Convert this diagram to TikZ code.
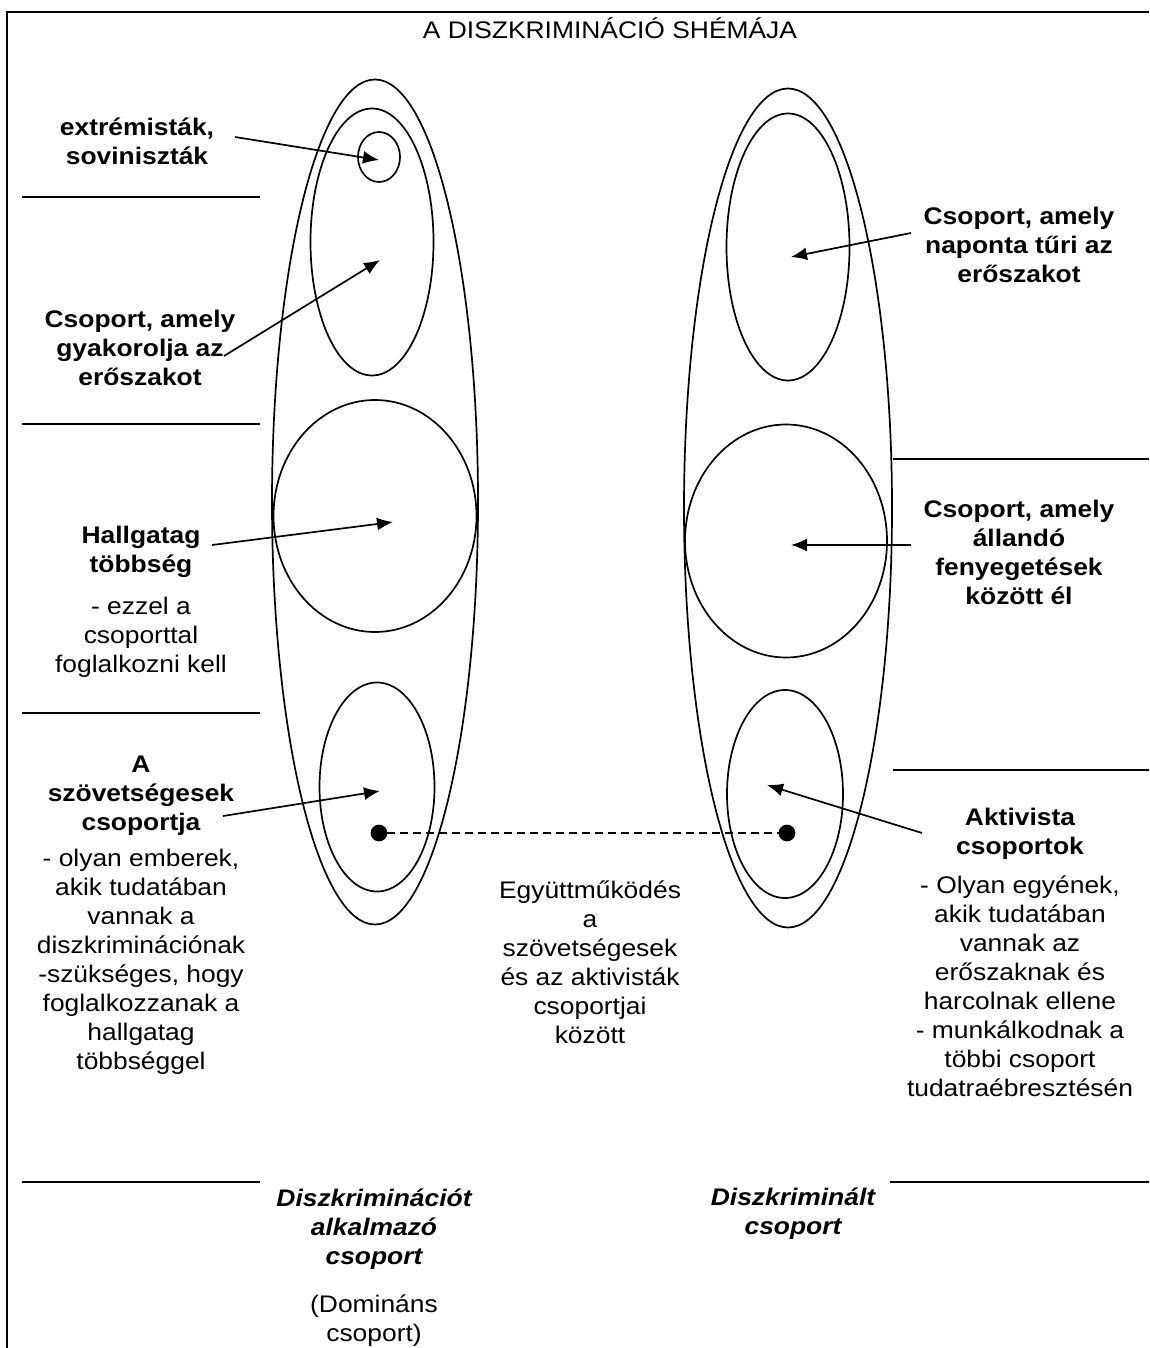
\documentclass[tikz,border=0pt]{standalone}
\usepackage{fontspec}
\setmainfont{Liberation Sans}[FakeStretch=1.1]
\usetikzlibrary{arrows.meta, shapes, positioning}
\tikzset{> = { Latex[length = 16pt, width = 13pt] }}

\begin{document}
\begin{tikzpicture}[x = 1pt, y = -1pt, line width = 1.7pt,
		ring/.style = {draw, ellipse, inner sep = 0pt},
		heading/.style = {align = center, inner sep = 0pt, font = \fontsize{24}{29}\selectfont\bfseries},
		label/.style = {align = center, inner sep = 0pt, font = \fontsize{24}{29}\selectfont\bfseries\itshape},
		note/.style = {align = center, inner sep = 0pt, font = \fontsize{24}{29}\selectfont},
		rule/.style = {line width = 2.6pt},
		spot/.style = {draw, circle, fill, inner sep = 0pt, minimum size = 15pt}]
		\useasboundingbox (0, 0) rectangle (1149, 1348);
		\draw [rule] (7, 1348) -- (7, 12) -- (1149, 12);
		\node [note] (title) at (610, 28) {A DISZKRIMINÁCIÓ SHÉMÁJA};

		\node [ring, minimum width = 206pt, minimum height = 845pt] (domOuter) at (375, 502) {};
		\node [ring, minimum width = 123pt, minimum height = 267pt] (domUpper) at (372, 242) {};
		\node [ring, minimum width = 42pt, minimum height = 50pt] (domTop) at (379, 157) {};
		\node [ring, minimum width = 203pt, minimum height = 232pt] (domMiddle) at (375, 516) {};
		\node [ring, minimum width = 115pt, minimum height = 209pt] (domLower) at (377, 787) {};
		\node [spot] (domSpot) at (379, 833) {};

		\node [ring, minimum width = 208pt, minimum height = 839pt] (subOuter) at (788, 508) {};
		\node [ring, minimum width = 123pt, minimum height = 267pt] (subUpper) at (788, 247) {};
		\node [ring, minimum width = 202pt, minimum height = 233pt] (subMiddle) at (786, 541) {};
		\node [ring, minimum width = 116pt, minimum height = 208pt] (subLower) at (785, 794) {};
		\node [spot] (subSpot) at (787, 833) {};

		\draw [dash pattern = on 8pt off 5pt] (domSpot) -- (subSpot);

		\draw [rule] (22, 197) -- (260, 197);
		\draw [rule] (22, 424) -- (260, 424);
		\draw [rule] (22, 713) -- (260, 713);
		\draw [rule] (22, 1182) -- (260, 1182);
		\draw [rule] (893, 459) -- (1149, 459);
		\draw [rule] (893, 770) -- (1149, 770);
		\draw [rule] (890, 1182) -- (1149, 1182);

		\node [heading] (extremists) at (137, 141) {extrémisták,\\soviniszták};
		\node [heading] (violent) at (140, 348) {Csoport, amely\\gyakorolja az\\erőszakot};
		\node [heading] (silent) at (141, 552) {Hallgatag\\többség};
		\node [note] (silentNote) at (141, 637) {- ezzel a\\csoporttal\\foglalkozni kell};
		\node [heading] (allies) at (141, 796) {A\\szövetségesek\\csoportja};
		\node [note] (alliesNote) at (141, 962) {- olyan emberek,\\akik tudatában\\vannak a\\diszkriminációnak\\-szükséges, hogy\\foglalkozzanak a\\hallgatag\\többséggel};

		\node [heading] (daily) at (1019, 245) {Csoport, amely\\naponta tűri az\\erőszakot};
		\node [heading] (threat) at (1019, 552) {Csoport, amely\\állandó\\fenyegetések\\között él};
		\node [heading] (activists) at (1020, 834) {Aktivista\\csoportok};
		\node [note] (activistsNote) at (1020, 986) {- Olyan egyének,\\akik tudatában\\vannak az\\erőszaknak és\\harcolnak ellene\\- munkálkodnak a\\többi csoport\\tudatraébresztésén};

		\node [note] (cooperation) at (590, 962) {Együttműködés\\a\\szövetségesek\\és az aktivisták\\csoportjai\\között};

		\node [label] (domLabel) at (374, 1229) {Diszkriminációt\\alkalmazó\\csoport};
		\node [note] (domNote) at (374, 1321) {(Domináns\\csoport)};
		\node [label] (subLabel) at (793, 1214) {Diszkriminált\\csoport};

		\coordinate (extremistsTail) at (235, 137);
		\coordinate (extremistsHead) at (379, 160);
		\coordinate (violentTail) at (224, 356);
		\coordinate (violentHead) at (380, 260);
		\coordinate (silentTail) at (212, 545);
		\coordinate (silentHead) at (393, 522);
		\coordinate (alliesTail) at (223, 816);
		\coordinate (alliesHead) at (380, 791);
		\coordinate (dailyTail) at (911, 233);
		\coordinate (dailyHead) at (791, 257);
		\coordinate (threatTail) at (911, 545);
		\coordinate (threatHead) at (791, 545);
		\coordinate (activistsTail) at (922, 833);
		\coordinate (activistsHead) at (767, 785);

		\draw [->] (extremistsTail) -- (extremistsHead);
		\draw [->] (violentTail) -- (violentHead);
		\draw [->] (silentTail) -- (silentHead);
		\draw [->] (alliesTail) -- (alliesHead);
		\draw [->] (dailyTail) -- (dailyHead);
		\draw [->] (threatTail) -- (threatHead);
		\draw [->] (activistsTail) -- (activistsHead);
	\end{tikzpicture}
\end{document}
